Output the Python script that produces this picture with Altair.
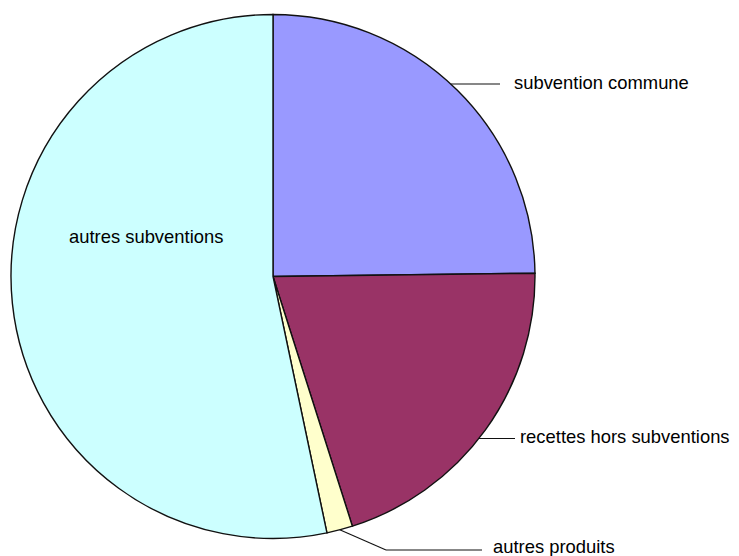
import altair as alt
import pandas as pd
import numpy as np

# ---- data ----
categories = ["subvention commune", "recettes hors subventions", "autres produits", "autres subventions"]
values = [24.8, 20.3, 1.6, 53.3]
colors = ["#9999FF", "#993366", "#FFFFCC", "#CCFFFF"]

# ---- layout (chart pixel coordinates; page = chart + 8) ----
W, H = 723, 548
CX, CY, R = 265, 268.5, 262
FONT = "Liberation Sans"
FS = 18.4

vals = np.array(values, dtype=float)
ends = np.cumsum(vals) / vals.sum() * 2 * np.pi
starts = np.concatenate([[0.0], ends[:-1]])
mids = (starts + ends) / 2

pie_df = pd.DataFrame({"category": categories, "value": values, "idx": range(len(categories))})

def edge_x_at(y):
    return CX + np.sqrt(R ** 2 - (y - CY) ** 2)

# leader lines
seg_rows = []
# subvention commune: horizontal line from pie edge
y1 = 76.0
seg_rows.append({"x": edge_x_at(y1), "y": y1, "x2": 492.0, "y2": y1})
# recettes hors subventions
y2 = 430.5
seg_rows.append({"x": edge_x_at(y2), "y": y2, "x2": 507.0, "y2": y2})
# autres produits: from slice mid-angle to elbow, then horizontal
m = mids[2]
px, py = CX + R * np.sin(m), CY - R * np.cos(m)
ex, ey = 378.0, 542.0
seg_rows.append({"x": px, "y": py, "x2": ex, "y2": ey})
seg_rows.append({"x": ex, "y": ey, "x2": 474.0, "y2": ey})
seg_df = pd.DataFrame(seg_rows)

lab_df = pd.DataFrame({
    "label": ["subvention commune", "recettes hors subventions", "autres produits", "autres subventions"],
    "x": [506.0, 512.0, 485.0, 61.0],
    "y": [81.0, 435.0, 545.0, 235.0],
})

xs = alt.Scale(domain=[0, W], nice=False, zero=False)
ys = alt.Scale(domain=[0, H], reverse=True, nice=False, zero=False)

pie = alt.Chart(pie_df).mark_arc(radius=R, stroke="#111111", strokeWidth=1.4).encode(
    theta=alt.Theta("value:Q", stack=True),
    color=alt.Color("category:N", scale=alt.Scale(domain=categories, range=colors), legend=None),
    order=alt.Order("idx:Q"),
    x=alt.value(CX),
    y=alt.value(CY),
)

rules = alt.Chart(seg_df).mark_rule(color="#111111", strokeWidth=1.1).encode(
    x=alt.X("x:Q", scale=xs, axis=None),
    y=alt.Y("y:Q", scale=ys, axis=None),
    x2="x2:Q",
    y2="y2:Q",
)

texts = alt.Chart(lab_df).mark_text(
    align="left", baseline="alphabetic", font=FONT, fontSize=FS, color="#000000"
).encode(
    x=alt.X("x:Q", scale=xs, axis=None),
    y=alt.Y("y:Q", scale=ys, axis=None),
    text="label:N",
)

chart = alt.layer(pie, rules, texts).properties(
    width=W, height=H, autosize=alt.AutoSizeParams(type="none"), padding=0, background="white"
).configure_view(stroke=None)

chart.save("out.html", embed_options={"renderer": "svg", "actions": False})
